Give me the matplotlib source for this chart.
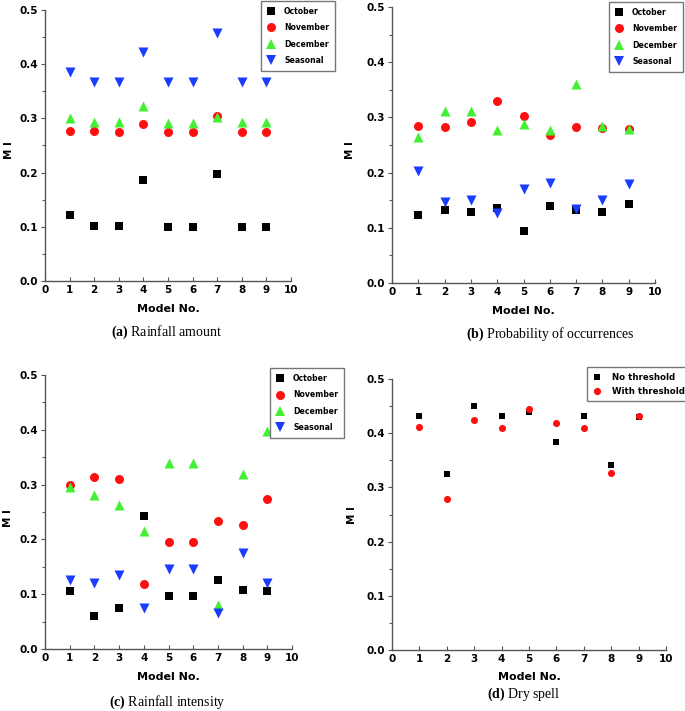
import matplotlib
matplotlib.use("Agg")
import matplotlib.pyplot as plt
from matplotlib.lines import Line2D
import numpy as np

plt.rcParams["font.family"] = "DejaVu Sans"
plt.rcParams["font.weight"] = "bold"
plt.rcParams["mathtext.fontset"] = "custom"
plt.rcParams["mathtext.rm"] = "Liberation Serif"
plt.rcParams["mathtext.bf"] = "Liberation Serif:bold"

models = [1, 2, 3, 4, 5, 6, 7, 8, 9]

# (a) Rainfall amount
amt_oct = [0.122, 0.101, 0.101, 0.187, 0.100, 0.100, 0.197, 0.100, 0.100]
amt_nov = [0.277, 0.276, 0.275, 0.289, 0.275, 0.275, 0.304, 0.274, 0.274]
amt_dec = [0.300, 0.293, 0.293, 0.322, 0.292, 0.292, 0.303, 0.293, 0.293]
amt_sea = [0.386, 0.368, 0.368, 0.423, 0.368, 0.368, 0.457, 0.368, 0.368]

# (b) Probability of occurrences
occ_oct = [0.124, 0.132, 0.129, 0.136, 0.094, 0.140, 0.132, 0.128, 0.143]
occ_nov = [0.284, 0.283, 0.292, 0.329, 0.303, 0.268, 0.283, 0.281, 0.279]
occ_dec = [0.264, 0.312, 0.312, 0.277, 0.288, 0.278, 0.361, 0.285, 0.279]
occ_sea = [0.203, 0.146, 0.151, 0.127, 0.170, 0.182, 0.134, 0.150, 0.180]

# (c) Rainfall intensity
int_oct = [0.106, 0.061, 0.075, 0.243, 0.097, 0.097, 0.126, 0.108, 0.105]
int_nov = [0.299, 0.314, 0.310, 0.119, 0.195, 0.195, 0.234, 0.226, 0.273]
int_dec = [0.295, 0.281, 0.262, 0.216, 0.339, 0.339, 0.081, 0.320, 0.397]
int_sea = [0.126, 0.120, 0.135, 0.075, 0.146, 0.146, 0.066, 0.176, 0.120]

# (d) Dry spell
dry_nothr = [0.432, 0.325, 0.451, 0.432, 0.439, 0.383, 0.432, 0.342, 0.429]
dry_thr = [0.412, 0.278, 0.424, 0.410, 0.444, 0.418, 0.410, 0.327, 0.432]

month_labels = ["October", "November", "December", "Seasonal"]
dry_labels = ["No threshold", "With threshold"]

BLACK = "#000000"
RED = "#ff1010"
GREEN = "#44f033"
BLUE = "#1a3cff"
STYLES = [("s", BLACK, 30), ("o", RED, 42), ("^", GREEN, 52), ("v", BLUE, 52)]

W, H = 685, 711
fig = plt.figure(figsize=(W / 100, H / 100), dpi=100)


def px_axes(l, r, t, b):
    return fig.add_axes([l / W, 1 - b / H, (r - l) / W, (b - t) / H])


def style_axes(ax, ylab_x, ylab_y):
    ax.set_xlim(0, 10)
    ax.set_ylim(0, 0.5)
    ax.set_xticks(range(0, 11))
    ax.set_yticks(np.arange(0, 0.51, 0.1))
    ax.set_yticks(np.arange(0.05, 0.5, 0.1), minor=True)
    ax.set_yticklabels([f"{v:.1f}" for v in np.arange(0, 0.51, 0.1)])
    for s in ["top", "right"]:
        ax.spines[s].set_visible(False)
    for s in ["left", "bottom"]:
        ax.spines[s].set_color("#555555")
        ax.spines[s].set_linewidth(1.0)
    ax.tick_params(axis="x", direction="in", length=3, width=0.8, color="#555555",
                   labelsize=7.5, pad=3)
    ax.tick_params(axis="y", which="major", direction="out", length=3, width=0.8,
                   color="#555555", labelsize=7.5, pad=2)
    ax.tick_params(axis="y", which="minor", direction="out", length=2, width=0.8,
                   color="#555555")
    ax.set_xlabel("Model No.", fontsize=8, fontweight="bold", labelpad=6)
    fig.text(ylab_x / W, 1 - ylab_y / H, "M I", rotation=90, ha="center",
             va="center", fontsize=7.5, fontweight="bold")


def add_legend(ax, handles, right, top, fs=5.6, spacing=0.95, pad=0.75):
    ax.legend(handles=handles, loc="upper right",
              bbox_to_anchor=(right / W, 1 - top / H), bbox_transform=fig.transFigure,
              fontsize=fs, frameon=True, fancybox=False, edgecolor="#777777",
              framealpha=1, borderpad=pad, labelspacing=spacing, handlelength=1.0,
              handletextpad=1.2, borderaxespad=0)


def caption(x, y, tag, text):
    fig.text(x / W, 1 - y / H, r"$\mathbf{(" + tag + r")}$ " + text, ha="center",
             va="center", fontsize=10, fontfamily="Liberation Serif",
             fontweight="normal")


month_handles = [Line2D([], [], ls="", marker=m, color=c, markersize=np.sqrt(s),
                        markeredgewidth=0, label=lab)
                 for (m, c, s), lab in zip(STYLES, month_labels)]

panels = [
    ((45, 291, 10, 281), (9, 150), [amt_oct, amt_nov, amt_dec, amt_sea], (335, 1),
     "a", "Rainfall amount", (167, 332)),
    ((392, 655, 7, 283), (350, 150), [occ_oct, occ_nov, occ_dec, occ_sea], (683, 2),
     "b", "Probability of occurrences", (550, 334)),
    ((45, 292, 375, 649), (8, 518), [int_oct, int_nov, int_dec, int_sea], (344, 368),
     "c", "Rainfall intensity", (167, 702)),
]

for box, ylab, series, leg, tag, cap, cpos in panels:
    ax = px_axes(*box)
    style_axes(ax, *ylab)
    for vals, (m, c, s) in zip(series, STYLES):
        ax.scatter(models, vals, marker=m, c=c, s=s, linewidths=0, zorder=3,
                   clip_on=False)
    add_legend(ax, month_handles, *leg)
    caption(cpos[0], cpos[1], tag, cap)

# (d) Dry spell
ax = px_axes(392, 666, 379, 650)
style_axes(ax, 352, 515)
ax.scatter(models, dry_nothr, marker="s", c=BLACK, s=22, linewidths=0, zorder=3)
ax.scatter(models, dry_thr, marker="o", c=RED, s=26, linewidths=0, zorder=4)
dry_handles = [Line2D([], [], ls="", marker="s", color=BLACK, markersize=4.8,
                      markeredgewidth=0, label=dry_labels[0]),
               Line2D([], [], ls="", marker="o", color=RED, markersize=5.2,
                      markeredgewidth=0, label=dry_labels[1])]
add_legend(ax, dry_handles, 690, 367, fs=6.2, spacing=0.6, pad=0.65)
caption(524, 694, "d", "Dry spell")

fig.savefig("out.png", dpi=100)
